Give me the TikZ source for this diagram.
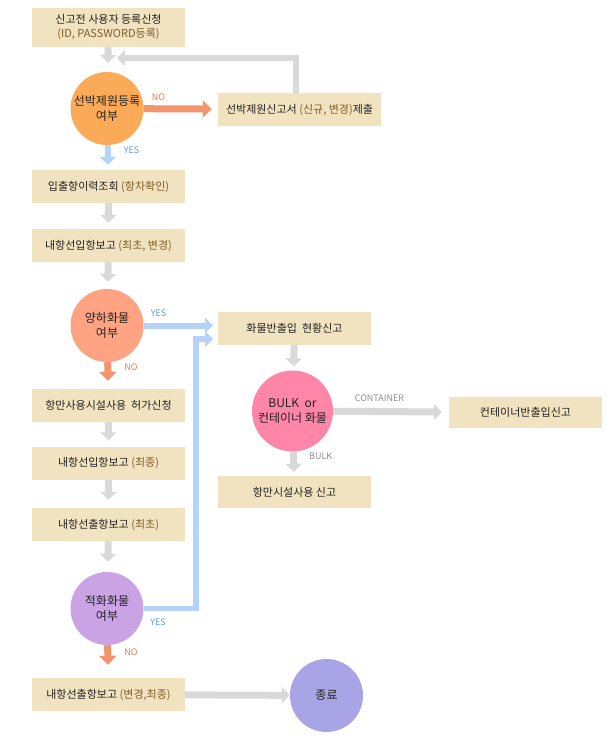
\documentclass[tikz,border=0pt]{standalone}
\usepackage{fontspec}
\setmainfont{Noto Sans CJK KR}
\usetikzlibrary{arrows.meta, calc}

\definecolor{boxfill}{HTML}{F2E3C0}
\definecolor{textdark}{HTML}{222222}
\definecolor{parenbrown}{HTML}{7C5E26}
\definecolor{arrowgray}{HTML}{D9D9D9}
\definecolor{arrowblue}{HTML}{B5D3F8}
\definecolor{arroworange}{HTML}{F2946E}
\definecolor{yesblue}{HTML}{5B9CE8}
\definecolor{nored}{HTML}{F07A4E}
\definecolor{taggray}{HTML}{8C8C8C}
\definecolor{circorange}{HTML}{FBAB57}
\definecolor{circsalmon}{HTML}{FFA383}
\definecolor{circpink}{HTML}{FF86A9}
\definecolor{circpurple}{HTML}{C9A3E4}
\definecolor{circend}{HTML}{A9A4E5}

\newcommand{\paren}[1]{{\color{parenbrown}#1}}

\tikzset{
  stepbox/.style={rectangle, fill=boxfill, minimum width=153pt, minimum height=33pt,
    inner sep=0pt, align=center, text=textdark, font=\fontsize{11}{14}\selectfont},
  askcircle/.style={circle, minimum size=73pt, inner sep=0pt, align=center,
    text=textdark, font=\fontsize{12}{15}\selectfont},
  grayarrow/.style={draw=arrowgray, line width=7pt, -{Triangle[length=8pt, width=16pt]}},
  bluearrow/.style={draw=arrowblue, line width=6pt, -{Triangle[length=8pt, width=16pt]}},
  noarrow/.style={draw=arroworange, line width=7pt, -{Triangle[length=9pt, width=17pt]}},
  tag/.style={inner sep=0pt, font=\fontsize{9}{10}\selectfont},
}

\begin{document}
\begin{tikzpicture}[x=1pt, y=-1pt]

        \useasboundingbox (0,0) rectangle (606,740);

        % ==========================================
        % 왼쪽 흐름: 입항 ~ 출항
        % ==========================================

        \node[stepbox, minimum height=39pt] (reg) at (108.5,27.5)
            {신고전 사용자 등록신청\\\paren{(ID, PASSWORD등록)}};
        \node[askcircle, fill=circorange] (regask) at (107,108.5) {선박제원등록\\여부};
        \node[stepbox, minimum width=163pt] (notice) at (299.5,109.5)
            {선박제원신고서 \paren{(신규, 변경)}제출};
        \node[stepbox] (history) at (108.5,186.5) {입출항이력조회 \paren{(항차확인)}};
        \node[stepbox] (arrival) at (108.5,245.5) {내항선입항보고 \paren{(최초, 변경)}};
        \node[askcircle, fill=circsalmon] (unload) at (107,325.5) {양하화물\\여부};
        \node[stepbox] (permit) at (108.5,405.5) {항만사용시설사용\ \ 허가신청};
        \node[stepbox] (finalin) at (108.5,463) {내항선입항보고 \paren{(최종)}};
        \node[stepbox] (firstout) at (108.5,524.5) {내항선출항보고 \paren{(최초)}};
        \node[askcircle, fill=circpurple] (load) at (107,608.5) {적화화물\\여부};
        \node[stepbox] (lastout) at (108.5,694.5) {내항선출항보고 \paren{(변경,최종)}};
        \node[askcircle, fill=circend] (finish) at (326.5,695.5) {종료};

        % ==========================================
        % 오른쪽: 화물 신고
        % ==========================================

        \node[stepbox] (cargo) at (294.5,328) {화물반출입\ \ 현황신고};
        \node[askcircle, minimum size=81pt, fill=circpink] (kind) at (292.5,411)
            {BULK\ \ or\\컨테이너 화물};
        \node[stepbox, minimum height=31pt] (container) at (525.5,412.5) {컨테이너반출입신고};
        \node[stepbox, minimum height=32pt] (facility) at (294.5,492) {항만시설사용 신고};

        % ==========================================
        % 화살표
        % ==========================================

        \draw[grayarrow, shorten >=9pt] (reg) -- (regask);
        \draw[noarrow, shorten >=6pt] (regask) -- (notice)
            node[tag, text=nored, pos=0.2, above=5pt] {NO};
        \draw[bluearrow, shorten >=5pt] (regask) -- (history)
            node[tag, text=yesblue, pos=0.2, right=13pt] {YES};

        % 신고서 제출 후 되돌아감
        \coordinate (ret) at (117,58);
        \draw[grayarrow, line width=6pt] ([xshift=-3.5pt]notice.north) |- (ret);

        \draw[grayarrow, shorten >=6pt] (history) -- (arrival);
        \draw[grayarrow, shorten >=7pt] (arrival) -- (unload);

        \draw[bluearrow, shorten >=5pt] (unload) -- (unload -| cargo.west)
            node[tag, text=yesblue, pos=0.2, above=6pt] {YES};
        \draw[noarrow, shorten >=8pt] (unload) -- (permit)
            node[tag, text=nored, pos=0.2, right=13pt] {NO};

        \draw[grayarrow, shorten >=6pt] (permit) -- (finalin);
        \draw[grayarrow, shorten >=8pt] (finalin) -- (firstout);
        \draw[grayarrow, shorten >=10pt] (firstout) -- (load);

        % 적화화물 -> 화물반출입 현황신고
        \coordinate (loadin) at (213,339);
        \draw[bluearrow, line width=5.5pt] (load.east) -| ([xshift=-17pt]loadin) -- (loadin);
        \node[tag, text=yesblue] (loadyes) at (158,622) {YES};

        \draw[noarrow, shorten >=13pt] (load) -- (lastout)
            node[tag, text=nored, pos=0.2, right=13pt] {NO};
        \draw[grayarrow] (lastout) -- (finish);

        % 화물 종류
        \draw[grayarrow, shorten >=4pt] (cargo) -- (kind);
        \draw[grayarrow, shorten >=7pt] (kind) -- (container)
            node[tag, text=taggray, pos=0.4, above=6pt] {CONTAINER};
        \draw[grayarrow, shorten >=4pt] (kind) -- (facility)
            node[tag, text=taggray, pos=0.2, right=12pt] {BULK};

\end{tikzpicture}
\end{document}
